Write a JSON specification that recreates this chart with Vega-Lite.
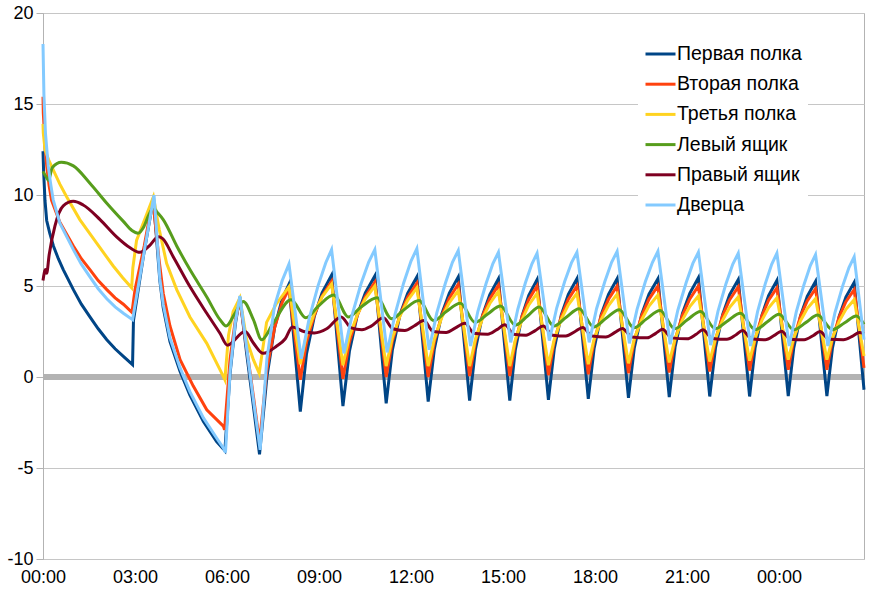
{
"$schema": "https://vega.github.io/schema/vega-lite/v6.json",
"width": 821, "height": 546,
"autosize": {"type": "none"},
"padding": {"left": 43, "top": 13, "right": 23, "bottom": 41},
"background": "white",
"config": {"font": "Liberation Sans", "view": {"stroke": "#b3b3b3", "strokeWidth": 1}},
"datasets": {
"p1": [
{"t":0,"v":12.4},{"t":0.02,"v":11.3},{"t":0.065,"v":9.7},{"t":0.12,"v":8.6},{"t":0.22,"v":7.9},{"t":0.34,"v":7.2},{"t":0.5,"v":6.5},{"t":0.66,"v":5.9},{"t":0.99,"v":4.8},{"t":1.25,"v":4.0},{"t":1.53,"v":3.3},{"t":1.8,"v":2.65},{"t":2.08,"v":2.05},{"t":2.35,"v":1.55},{"t":2.62,"v":1.13},{"t":2.92,"v":0.68},{"t":2.95,"v":3.1},{"t":3.28,"v":6.7},{"t":3.6,"v":9.8},{"t":3.81,"v":5.3},{"t":3.92,"v":3.8},{"t":4.14,"v":1.95},{"t":4.47,"v":0.3},{"t":4.79,"v":-1.0},{"t":5.23,"v":-2.45},{"t":5.66,"v":-3.55},{"t":5.88,"v":-3.95},{"t":5.93,"v":-4.05},{"t":6.1,"v":0.2},{"t":6.27,"v":2.9},{"t":6.42,"v":4.4},{"t":6.64,"v":1.3},{"t":6.86,"v":-1.6},{"t":7.06,"v":-4.25},{"t":7.3,"v":0.0},{"t":7.55,"v":2.7},{"t":7.8,"v":4.3},
{"t":8.02,"v":5.1},{"t":8.39,"v":-1.9},{"t":8.59,"v":1.25},{"t":8.85,"v":3.35},{"t":9.10,"v":4.63},
{"t":9.41,"v":5.6},{"t":9.78,"v":-1.6},{"t":9.99,"v":1.40},{"t":10.25,"v":3.41},{"t":10.51,"v":4.62},
{"t":10.82,"v":5.55},{"t":11.19,"v":-1.45},{"t":11.39,"v":1.47},{"t":11.64,"v":3.42},{"t":11.89,"v":4.60},
{"t":12.19,"v":5.5},{"t":12.56,"v":-1.35},{"t":12.76,"v":1.53},{"t":13.00,"v":3.45},{"t":13.25,"v":4.61},
{"t":13.54,"v":5.5},{"t":13.91,"v":-1.3},{"t":14.10,"v":1.51},{"t":14.33,"v":3.39},{"t":14.57,"v":4.53},
{"t":14.85,"v":5.4},{"t":15.22,"v":-1.3},{"t":15.40,"v":1.49},{"t":15.62,"v":3.36},{"t":15.84,"v":4.49},
{"t":16.11,"v":5.35},{"t":16.48,"v":-1.25},{"t":16.67,"v":1.54},{"t":16.90,"v":3.41},{"t":17.13,"v":4.54},
{"t":17.41,"v":5.4},{"t":17.78,"v":-1.2},{"t":17.97,"v":1.57},{"t":18.20,"v":3.42},{"t":18.44,"v":4.54},
{"t":18.72,"v":5.4},{"t":19.09,"v":-1.15},{"t":19.28,"v":1.60},{"t":19.52,"v":3.44},{"t":19.76,"v":4.55},
{"t":20.05,"v":5.4},{"t":20.42,"v":-1.1},{"t":20.61,"v":1.65},{"t":20.85,"v":3.49},{"t":21.09,"v":4.60},
{"t":21.37,"v":5.45},{"t":21.74,"v":-1.07},{"t":21.93,"v":1.63},{"t":22.16,"v":3.42},{"t":22.39,"v":4.52},
{"t":22.67,"v":5.35},{"t":23.04,"v":-1.07},{"t":23.22,"v":1.61},{"t":23.44,"v":3.39},{"t":23.66,"v":4.47},
{"t":23.93,"v":5.3},{"t":24.30,"v":-1.05},{"t":24.48,"v":1.60},{"t":24.70,"v":3.36},{"t":24.92,"v":4.43},
{"t":25.19,"v":5.25},{"t":25.56,"v":-1.05},{"t":25.74,"v":1.58},{"t":25.96,"v":3.33},{"t":26.18,"v":4.39},
{"t":26.45,"v":5.2},{"t":26.77,"v":-0.7}
],
"p2": [
{"t":0,"v":15.4},{"t":0.01,"v":14.5},{"t":0.06,"v":13.0},{"t":0.12,"v":11.6},{"t":0.2,"v":10.5},{"t":0.28,"v":9.7},{"t":0.55,"v":8.5},{"t":0.99,"v":7.2},{"t":1.25,"v":6.5},{"t":1.53,"v":5.9},{"t":1.8,"v":5.3},{"t":2.08,"v":4.8},{"t":2.35,"v":4.35},{"t":2.62,"v":4.0},{"t":2.9,"v":3.55},{"t":3.0,"v":4.8},{"t":3.3,"v":7.2},{"t":3.58,"v":9.75},{"t":3.78,"v":6.5},{"t":3.92,"v":4.6},{"t":4.14,"v":2.8},{"t":4.47,"v":0.95},{"t":4.9,"v":-0.5},{"t":5.34,"v":-1.8},{"t":5.88,"v":-2.7},{"t":5.92,"v":-2.9},{"t":6.1,"v":1.0},{"t":6.27,"v":3.1},{"t":6.42,"v":4.25},{"t":6.65,"v":1.5},{"t":6.88,"v":-1.3},{"t":7.06,"v":-3.6},{"t":7.3,"v":0.4},{"t":7.55,"v":2.7},{"t":7.8,"v":4.1},
{"t":8.02,"v":4.85},{"t":8.39,"v":-0.15},{"t":8.59,"v":1.90},{"t":8.85,"v":3.41},{"t":9.10,"v":4.44},
{"t":9.41,"v":5.25},{"t":9.78,"v":-0.1},{"t":9.99,"v":1.91},{"t":10.25,"v":3.40},{"t":10.51,"v":4.41},
{"t":10.82,"v":5.2},{"t":11.19,"v":0.0},{"t":11.39,"v":1.96},{"t":11.64,"v":3.40},{"t":11.89,"v":4.38},
{"t":12.19,"v":5.15},{"t":12.56,"v":0.0},{"t":12.76,"v":1.94},{"t":13.00,"v":3.37},{"t":13.25,"v":4.34},
{"t":13.54,"v":5.1},{"t":13.91,"v":0.05},{"t":14.10,"v":1.95},{"t":14.33,"v":3.35},{"t":14.57,"v":4.30},
{"t":14.85,"v":5.05},{"t":15.22,"v":0.05},{"t":15.40,"v":1.93},{"t":15.62,"v":3.32},{"t":15.84,"v":4.26},
{"t":16.11,"v":5.0},{"t":16.48,"v":0.1},{"t":16.67,"v":1.96},{"t":16.90,"v":3.33},{"t":17.13,"v":4.27},
{"t":17.41,"v":5.0},{"t":17.78,"v":0.15},{"t":17.97,"v":1.99},{"t":18.20,"v":3.35},{"t":18.44,"v":4.27},
{"t":18.72,"v":5.0},{"t":19.09,"v":0.2},{"t":19.28,"v":2.02},{"t":19.52,"v":3.37},{"t":19.76,"v":4.28},
{"t":20.05,"v":5.0},{"t":20.42,"v":0.25},{"t":20.61,"v":2.06},{"t":20.85,"v":3.39},{"t":21.09,"v":4.29},
{"t":21.37,"v":5.0},{"t":21.74,"v":0.3},{"t":21.93,"v":2.07},{"t":22.16,"v":3.37},{"t":22.39,"v":4.25},
{"t":22.67,"v":4.95},{"t":23.04,"v":0.35},{"t":23.22,"v":2.08},{"t":23.44,"v":3.35},{"t":23.66,"v":4.22},
{"t":23.93,"v":4.9},{"t":24.30,"v":0.4},{"t":24.48,"v":2.09},{"t":24.70,"v":3.34},{"t":24.92,"v":4.18},
{"t":25.19,"v":4.85},{"t":25.56,"v":0.4},{"t":25.74,"v":2.07},{"t":25.96,"v":3.30},{"t":26.18,"v":4.14},
{"t":26.45,"v":4.8},{"t":26.77,"v":0.5}
],
"p3": [
{"t":0,"v":13.9},{"t":0.01,"v":13.4},{"t":0.065,"v":12.5},{"t":0.18,"v":11.95},{"t":0.33,"v":11.4},{"t":0.55,"v":10.6},{"t":0.77,"v":9.9},{"t":1.2,"v":8.65},{"t":1.75,"v":7.35},{"t":2.29,"v":6.1},{"t":2.6,"v":5.45},{"t":2.89,"v":4.9},{"t":2.93,"v":6.0},{"t":3.05,"v":7.5},{"t":3.35,"v":8.8},{"t":3.6,"v":9.9},{"t":3.79,"v":8.1},{"t":4.03,"v":6.25},{"t":4.36,"v":4.8},{"t":4.79,"v":3.3},{"t":5.34,"v":1.85},{"t":5.88,"v":0.03},{"t":5.93,"v":-0.15},{"t":6.05,"v":2.3},{"t":6.2,"v":3.6},{"t":6.42,"v":4.35},{"t":6.64,"v":2.05},{"t":6.86,"v":0.95},{"t":7.05,"v":0.2},{"t":7.29,"v":3.0},{"t":7.6,"v":4.0},
{"t":8.02,"v":4.95},{"t":8.39,"v":0.7},{"t":8.59,"v":2.28},{"t":8.85,"v":3.52},{"t":9.10,"v":4.40},
{"t":9.41,"v":5.1},{"t":9.78,"v":0.65},{"t":9.99,"v":2.22},{"t":10.25,"v":3.43},{"t":10.51,"v":4.30},
{"t":10.82,"v":5.0},{"t":11.19,"v":0.6},{"t":11.39,"v":2.15},{"t":11.64,"v":3.35},{"t":11.89,"v":4.21},
{"t":12.19,"v":4.9},{"t":12.56,"v":0.6},{"t":12.76,"v":2.09},{"t":13.00,"v":3.26},{"t":13.25,"v":4.09},
{"t":13.54,"v":4.75},{"t":13.91,"v":0.6},{"t":14.10,"v":2.08},{"t":14.33,"v":3.22},{"t":14.57,"v":4.04},
{"t":14.85,"v":4.7},{"t":15.22,"v":0.6},{"t":15.40,"v":2.04},{"t":15.62,"v":3.16},{"t":15.84,"v":3.96},
{"t":16.11,"v":4.6},{"t":16.48,"v":0.65},{"t":16.67,"v":2.07},{"t":16.90,"v":3.18},{"t":17.13,"v":3.97},
{"t":17.41,"v":4.6},{"t":17.78,"v":0.7},{"t":17.97,"v":2.09},{"t":18.20,"v":3.16},{"t":18.44,"v":3.93},
{"t":18.72,"v":4.55},{"t":19.09,"v":0.75},{"t":19.28,"v":2.10},{"t":19.52,"v":3.15},{"t":19.76,"v":3.90},
{"t":20.05,"v":4.5},{"t":20.42,"v":0.8},{"t":20.61,"v":2.11},{"t":20.85,"v":3.14},{"t":21.09,"v":3.87},
{"t":21.37,"v":4.45},{"t":21.74,"v":0.85},{"t":21.93,"v":2.13},{"t":22.16,"v":3.12},{"t":22.39,"v":3.83},
{"t":22.67,"v":4.4},{"t":23.04,"v":0.9},{"t":23.22,"v":2.14},{"t":23.44,"v":3.11},{"t":23.66,"v":3.80},
{"t":23.93,"v":4.35},{"t":24.30,"v":0.95},{"t":24.48,"v":2.16},{"t":24.70,"v":3.09},{"t":24.92,"v":3.76},
{"t":25.19,"v":4.3},{"t":25.56,"v":0.95},{"t":25.74,"v":2.14},{"t":25.96,"v":3.06},{"t":26.18,"v":3.72},
{"t":26.45,"v":4.25},{"t":26.77,"v":1.15}
],
"p4": [
{"t":0,"v":11.3},{"t":0.1,"v":11.0},{"t":0.18,"v":10.8},{"t":0.3,"v":11.5},{"t":0.6,"v":11.8},{"t":0.99,"v":11.6},{"t":1.53,"v":10.65},{"t":2.08,"v":9.55},{"t":2.62,"v":8.55},{"t":2.9,"v":8.05},{"t":3.1,"v":7.9},{"t":3.27,"v":8.2},{"t":3.45,"v":8.9},{"t":3.6,"v":9.3},{"t":3.7,"v":9.1},{"t":3.92,"v":8.65},{"t":4.36,"v":7.2},{"t":4.79,"v":5.9},{"t":5.34,"v":4.4},{"t":5.77,"v":3.15},{"t":5.97,"v":2.8},{"t":6.26,"v":3.5},{"t":6.53,"v":4.15},{"t":6.86,"v":3.15},{"t":7.13,"v":2.05},{"t":7.51,"v":2.97},
{"t":8.09,"v":4.25},{"t":8.57,"v":3.25},{"t":8.97,"v":3.88},
{"t":9.48,"v":4.5},{"t":9.96,"v":3.3},{"t":10.36,"v":3.83},
{"t":10.89,"v":4.35},{"t":11.37,"v":3.2},{"t":11.77,"v":3.7},
{"t":12.26,"v":4.2},{"t":12.74,"v":3.1},{"t":13.14,"v":3.58},
{"t":13.61,"v":4.05},{"t":14.09,"v":3.0},{"t":14.49,"v":3.45},
{"t":14.92,"v":3.9},{"t":15.40,"v":2.85},{"t":15.80,"v":3.35},
{"t":16.18,"v":3.85},{"t":16.66,"v":2.8},{"t":17.06,"v":3.28},
{"t":17.48,"v":3.75},{"t":17.96,"v":2.75},{"t":18.36,"v":3.23},
{"t":18.79,"v":3.7},{"t":19.27,"v":2.7},{"t":19.67,"v":3.18},
{"t":20.12,"v":3.65},{"t":20.60,"v":2.65},{"t":21.00,"v":3.13},
{"t":21.44,"v":3.6},{"t":21.92,"v":2.65},{"t":22.32,"v":3.08},
{"t":22.74,"v":3.5},{"t":23.22,"v":2.6},{"t":23.62,"v":3.03},
{"t":24.00,"v":3.45},{"t":24.48,"v":2.6},{"t":24.88,"v":3.0},
{"t":25.26,"v":3.4},{"t":25.74,"v":2.6},{"t":26.14,"v":2.98},
{"t":26.52,"v":3.35},{"t":26.77,"v":2.9}
],
"p5": [
{"t":0,"v":5.3},{"t":0.08,"v":5.9},{"t":0.12,"v":5.7},{"t":0.2,"v":6.7},{"t":0.39,"v":8.3},{"t":0.66,"v":9.4},{"t":0.99,"v":9.65},{"t":1.31,"v":9.45},{"t":1.86,"v":8.65},{"t":2.4,"v":7.7},{"t":2.84,"v":7.1},{"t":3.16,"v":6.85},{"t":3.49,"v":7.25},{"t":3.76,"v":7.7},{"t":3.9,"v":7.6},{"t":4.25,"v":6.6},{"t":4.79,"v":4.97},{"t":5.34,"v":3.5},{"t":5.77,"v":2.4},{"t":6.01,"v":1.75},{"t":6.59,"v":2.5},{"t":6.86,"v":1.87},{"t":7.18,"v":1.3},{"t":7.62,"v":1.7},{"t":7.9,"v":2.1},
{"t":8.13,"v":2.75},{"t":8.5,"v":2.5},{"t":8.85,"v":2.42},{"t":9.25,"v":2.65},
{"t":9.72,"v":3.3},{"t":10.05,"v":2.7},{"t":10.4,"v":2.6},{"t":10.7,"v":2.8},
{"t":11.1,"v":3.25},{"t":11.4,"v":2.65},{"t":11.8,"v":2.55},{"t":12.1,"v":2.8},
{"t":12.42,"v":3.1},{"t":12.72,"v":2.5},{"t":13.15,"v":2.45},{"t":13.45,"v":2.7},
{"t":13.76,"v":2.95},{"t":14.05,"v":2.4},{"t":14.5,"v":2.35},{"t":14.8,"v":2.6},
{"t":15.06,"v":2.87},{"t":15.35,"v":2.35},{"t":15.75,"v":2.3},{"t":16.05,"v":2.55},
{"t":16.31,"v":2.8},{"t":16.62,"v":2.3},{"t":17.05,"v":2.25},{"t":17.35,"v":2.5},
{"t":17.6,"v":2.72},{"t":17.9,"v":2.25},{"t":18.35,"v":2.2},{"t":18.65,"v":2.45},
{"t":18.89,"v":2.67},{"t":19.2,"v":2.2},{"t":19.7,"v":2.15},{"t":19.98,"v":2.4},
{"t":20.2,"v":2.62},{"t":20.5,"v":2.15},{"t":21.0,"v":2.1},{"t":21.3,"v":2.35},
{"t":21.52,"v":2.6},{"t":21.82,"v":2.12},{"t":22.3,"v":2.07},{"t":22.6,"v":2.32},
{"t":22.81,"v":2.55},{"t":23.1,"v":2.1},{"t":23.55,"v":2.05},{"t":23.86,"v":2.3},
{"t":24.08,"v":2.52},{"t":24.37,"v":2.08},{"t":24.82,"v":2.05},{"t":25.12,"v":2.28},
{"t":25.33,"v":2.5},{"t":25.63,"v":2.07},{"t":26.1,"v":2.05},{"t":26.4,"v":2.25},
{"t":26.62,"v":2.45},{"t":26.77,"v":2.38}
],
"p6": [
{"t":0,"v":18.3},{"t":0.03,"v":15.5},{"t":0.08,"v":13.4},{"t":0.17,"v":11.6},{"t":0.25,"v":10.6},{"t":0.33,"v":9.75},{"t":0.55,"v":8.45},{"t":0.99,"v":7.0},{"t":1.25,"v":6.2},{"t":1.53,"v":5.5},{"t":1.8,"v":4.85},{"t":2.08,"v":4.3},{"t":2.35,"v":3.85},{"t":2.62,"v":3.5},{"t":2.92,"v":3.15},{"t":3.28,"v":6.7},{"t":3.62,"v":10.0},{"t":3.81,"v":5.4},{"t":3.92,"v":4.0},{"t":4.14,"v":2.15},{"t":4.47,"v":0.5},{"t":4.79,"v":-0.8},{"t":5.23,"v":-2.25},{"t":5.66,"v":-3.35},{"t":5.88,"v":-3.9},{"t":5.95,"v":-4.15},{"t":6.1,"v":0.3},{"t":6.27,"v":3.0},{"t":6.42,"v":4.45},{"t":6.65,"v":1.5},{"t":6.88,"v":-1.5},{"t":7.08,"v":-4.0},{"t":7.3,"v":1.0},{"t":7.55,"v":3.9},{"t":7.8,"v":5.3},
{"t":8.02,"v":6.2},{"t":8.42,"v":1.0},{"t":8.68,"v":3.22},{"t":8.97,"v":5.02},{"t":9.22,"v":6.28},
{"t":9.41,"v":7.0},{"t":9.81,"v":1.3},{"t":10.08,"v":3.41},{"t":10.37,"v":5.12},{"t":10.62,"v":6.32},
{"t":10.82,"v":7.0},{"t":11.22,"v":1.35},{"t":11.48,"v":3.46},{"t":11.76,"v":5.17},{"t":12.00,"v":6.37},
{"t":12.19,"v":7.05},{"t":12.59,"v":1.5},{"t":12.84,"v":3.52},{"t":13.12,"v":5.15},{"t":13.35,"v":6.30},
{"t":13.54,"v":6.95},{"t":13.94,"v":1.7},{"t":14.18,"v":3.61},{"t":14.45,"v":5.15},{"t":14.67,"v":6.23},
{"t":14.85,"v":6.85},{"t":15.25,"v":1.9},{"t":15.48,"v":3.71},{"t":15.73,"v":5.18},{"t":15.94,"v":6.21},
{"t":16.11,"v":6.8},{"t":16.51,"v":2.0},{"t":16.75,"v":3.79},{"t":17.01,"v":5.25},{"t":17.23,"v":6.27},
{"t":17.41,"v":6.85},{"t":17.81,"v":1.9},{"t":18.05,"v":3.75},{"t":18.32,"v":5.25},{"t":18.54,"v":6.30},
{"t":18.72,"v":6.9},{"t":19.12,"v":1.85},{"t":19.37,"v":3.72},{"t":19.64,"v":5.23},{"t":19.87,"v":6.29},
{"t":20.05,"v":6.9},{"t":20.45,"v":1.8},{"t":20.70,"v":3.67},{"t":20.97,"v":5.18},{"t":21.19,"v":6.24},
{"t":21.37,"v":6.85},{"t":21.77,"v":1.75},{"t":22.01,"v":3.62},{"t":22.27,"v":5.13},{"t":22.49,"v":6.19},
{"t":22.67,"v":6.8},{"t":23.07,"v":1.7},{"t":23.30,"v":3.59},{"t":23.55,"v":5.12},{"t":23.76,"v":6.19},
{"t":23.93,"v":6.8},{"t":24.33,"v":1.7},{"t":24.56,"v":3.56},{"t":24.81,"v":5.06},{"t":25.02,"v":6.12},
{"t":25.19,"v":6.72},{"t":25.59,"v":1.7},{"t":25.82,"v":3.51},{"t":26.07,"v":4.98},{"t":26.28,"v":6.01},
{"t":26.45,"v":6.6},{"t":26.77,"v":2.05}
]
},
"encoding": {
  "y": {"field": "v", "type": "quantitative", "scale": {"domain": [-10, 20], "nice": false},
        "axis": {"values": [-10,-5,0,5,10,15,20], "title": null, "grid": true, "gridColor": "#c6c6c6",
                 "domainColor": "#b3b3b3", "tickColor": "#b3b3b3", "tickSize": 7, "labelFontSize": 18,
                 "labelColor": "#000000", "labelPadding": 3, "labelExpr": "datum.value + ''"}}
},
"layer": [
{"data": {"values": [{"v": 0}]}, "mark": {"type": "rule", "color": "#b3b3b3", "strokeWidth": 6}},
{"encoding": {
  "x": {"field": "t", "type": "quantitative", "scale": {"domain": [0, 26.77], "nice": false, "zero": false},
        "axis": {"values": [0,3,6,9,12,15,18,21,24], "title": null, "grid": false, "ticks": false, "domain": false,
                 "labelFontSize": 18, "labelColor": "#000000", "labelPadding": 9, "labelFlush": false,
                 "labelExpr": "(datum.value % 24 < 10 ? '0' : '') + (datum.value % 24) + ':00'"}}
 },
 "layer": [
  {"data": {"name": "p1"}, "mark": {"type": "line", "strokeWidth": 3},
   "encoding": {"color": {"datum": "Первая полка", "type": "nominal",
     "scale": {"domain": ["Первая полка", "Вторая полка", "Третья полка", "Левый ящик", "Правый ящик", "Дверца"],
               "range": ["#004586", "#ff420e", "#ffd320", "#579d1c", "#7e0021", "#83caff"]},
     "legend": {"orient": "none", "legendX": 595, "legendY": 18.5, "title": null, "fillColor": "white", "padding": 6,
                "symbolType": "stroke", "symbolSize": 900, "symbolStrokeWidth": 3, "labelFontSize": 19.5,
                "labelColor": "#000000", "labelOffset": 0, "rowPadding": 4.2, "labelLimit": 300}}}},
  {"data": {"name": "p2"}, "mark": {"type": "line", "strokeWidth": 3}, "encoding": {"color": {"datum": "Вторая полка", "type": "nominal"}}},
  {"data": {"name": "p3"}, "mark": {"type": "line", "strokeWidth": 3}, "encoding": {"color": {"datum": "Третья полка", "type": "nominal"}}},
  {"data": {"name": "p4"}, "mark": {"type": "line", "strokeWidth": 3, "interpolate": "monotone"}, "encoding": {"color": {"datum": "Левый ящик", "type": "nominal"}}},
  {"data": {"name": "p5"}, "mark": {"type": "line", "strokeWidth": 3, "interpolate": "monotone"}, "encoding": {"color": {"datum": "Правый ящик", "type": "nominal"}}},
  {"data": {"name": "p6"}, "mark": {"type": "line", "strokeWidth": 3}, "encoding": {"color": {"datum": "Дверца", "type": "nominal"}}}
 ]
}
]
}
